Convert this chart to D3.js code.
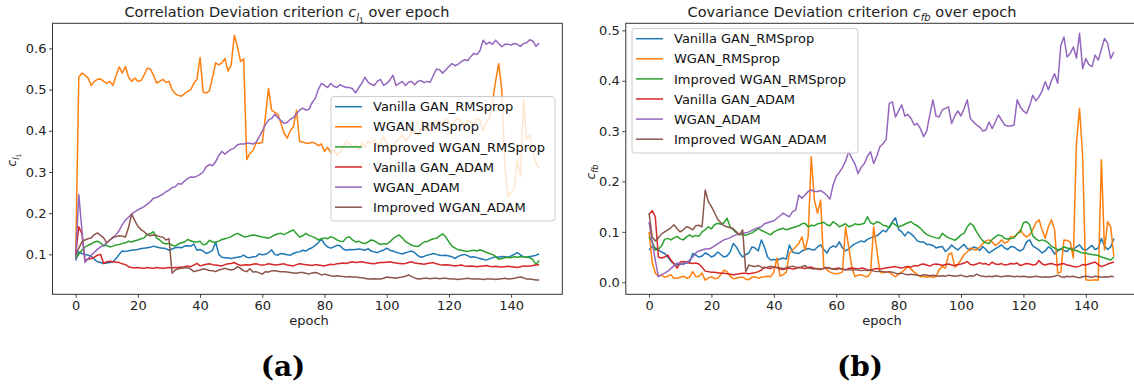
<!DOCTYPE html>
<html>
<head>
<meta charset="utf-8">
<script src="https://cdn.jsdelivr.net/npm/d3@7"></script>
<style>
  body { margin: 0; background: #fff; }
  svg { display: block; font-family: "DejaVu Sans", sans-serif; }
</style>
</head>
<body>
<svg id="fig" width="1134" height="387"></svg>
<script>
// ---- shared labels / ticks ----
const seriesNames = ["Vanilla GAN_RMSprop", "WGAN_RMSprop", "Improved WGAN_RMSprop",
                     "Vanilla GAN_ADAM", "WGAN_ADAM", "Improved WGAN_ADAM"];
const seriesColors = ["#1f77b4", "#ff7f0e", "#2ca02c", "#d62728", "#9467bd", "#8c564b"];
const epochTicks = [0, 20, 40, 60, 80, 100, 120, 140];
const corrTicks = [0.1, 0.2, 0.3, 0.4, 0.5, 0.6];
const covTicks = [0.0, 0.1, 0.2, 0.3, 0.4, 0.5];

// ---- (a) correlation deviation c_l1, one value per epoch ----
const corrVanillaRms = [
 0.085,0.106,0.102,0.1,0.098,0.095,0.088,0.082,0.08,0.078,
 0.079,0.08,0.082,0.09,0.1,0.108,0.107,0.109,0.11,0.111,
 0.112,0.114,0.115,0.116,0.117,0.12,0.118,0.116,0.115,0.114,
 0.11,0.113,0.116,0.117,0.116,0.12,0.121,0.12,0.125,0.11,
 0.112,0.108,0.102,0.105,0.11,0.13,0.1,0.093,0.092,0.091,
 0.09,0.092,0.093,0.094,0.098,0.093,0.092,0.094,0.095,0.101,
 0.099,0.1,0.104,0.111,0.1,0.098,0.102,0.101,0.099,0.098,
 0.102,0.105,0.106,0.11,0.108,0.113,0.116,0.122,0.128,0.138,
 0.125,0.118,0.115,0.118,0.122,0.121,0.113,0.11,0.112,0.111,
 0.112,0.113,0.112,0.11,0.114,0.108,0.106,0.104,0.108,0.11,
 0.115,0.11,0.108,0.105,0.103,0.101,0.104,0.106,0.108,0.104,
 0.097,0.093,0.095,0.098,0.1,0.102,0.1,0.098,0.097,0.098,
 0.096,0.094,0.09,0.095,0.098,0.1,0.097,0.093,0.094,0.092,
 0.09,0.088,0.086,0.089,0.092,0.094,0.093,0.095,0.094,0.093,
 0.096,0.1,0.104,0.099,0.094,0.093,0.095,0.096,0.098,0.101];
const corrWganRms = [
 0.09,0.53,0.54,0.535,0.528,0.51,0.52,0.525,0.526,0.52,
 0.515,0.52,0.51,0.535,0.555,0.54,0.556,0.53,0.52,0.528,
 0.52,0.522,0.535,0.552,0.55,0.535,0.516,0.52,0.525,0.518,
 0.52,0.5,0.49,0.486,0.484,0.49,0.495,0.5,0.515,0.525,
 0.578,0.494,0.492,0.497,0.53,0.565,0.56,0.565,0.576,0.545,
 0.56,0.632,0.605,0.568,0.575,0.33,0.345,0.352,0.37,0.37,
 0.372,0.435,0.503,0.45,0.445,0.44,0.418,0.394,0.382,0.4,
 0.41,0.45,0.374,0.373,0.37,0.37,0.372,0.37,0.364,0.368,
 0.35,0.36,0.347,0.355,0.341,0.348,0.36,0.375,0.37,0.36,
 0.365,0.355,0.37,0.36,0.375,0.37,0.38,0.365,0.37,0.385,
 0.37,0.35,0.36,0.375,0.38,0.39,0.375,0.385,0.395,0.4,
 0.39,0.405,0.4,0.415,0.4,0.42,0.42,0.425,0.41,0.43,
 0.42,0.415,0.425,0.43,0.42,0.41,0.425,0.42,0.415,0.43,
 0.425,0.4,0.42,0.43,0.47,0.52,0.563,0.5,0.31,0.24,
 0.25,0.26,0.33,0.29,0.475,0.38,0.39,0.35,0.32,0.31];
const corrImprovedRms = [
 0.09,0.1,0.11,0.118,0.122,0.125,0.13,0.132,0.128,0.12,
 0.122,0.118,0.12,0.123,0.124,0.126,0.128,0.132,0.13,0.133,
 0.135,0.138,0.14,0.148,0.15,0.155,0.14,0.135,0.128,0.125,
 0.127,0.122,0.12,0.125,0.128,0.13,0.136,0.133,0.13,0.13,
 0.132,0.123,0.125,0.134,0.13,0.129,0.132,0.136,0.138,0.14,
 0.143,0.148,0.151,0.147,0.143,0.143,0.145,0.147,0.146,0.144,
 0.142,0.141,0.139,0.143,0.147,0.15,0.151,0.148,0.152,0.156,
 0.159,0.15,0.142,0.145,0.151,0.146,0.143,0.14,0.135,0.138,
 0.14,0.138,0.143,0.14,0.135,0.132,0.131,0.14,0.143,0.135,
 0.13,0.132,0.128,0.126,0.13,0.135,0.133,0.128,0.124,0.126,
 0.125,0.13,0.138,0.143,0.147,0.14,0.131,0.127,0.122,0.12,
 0.119,0.124,0.13,0.131,0.135,0.138,0.139,0.145,0.15,0.142,
 0.13,0.12,0.115,0.111,0.11,0.108,0.107,0.109,0.11,0.108,
 0.111,0.108,0.105,0.102,0.1,0.095,0.088,0.09,0.092,0.093,
 0.092,0.094,0.093,0.095,0.094,0.093,0.092,0.087,0.075,0.085];
const corrVanillaAdam = [
 0.1,0.167,0.15,0.086,0.088,0.09,0.093,0.098,0.1,0.078,
 0.082,0.083,0.082,0.081,0.08,0.077,0.075,0.07,0.068,0.067,
 0.068,0.067,0.066,0.068,0.067,0.066,0.068,0.067,0.066,0.067,
 0.068,0.067,0.068,0.068,0.069,0.07,0.072,0.07,0.074,0.078,
 0.072,0.074,0.076,0.077,0.075,0.074,0.073,0.072,0.075,0.077,
 0.078,0.08,0.076,0.073,0.074,0.075,0.074,0.076,0.077,0.075,
 0.074,0.075,0.077,0.076,0.074,0.075,0.076,0.077,0.074,0.073,
 0.072,0.075,0.077,0.076,0.075,0.074,0.073,0.075,0.074,0.073,
 0.072,0.074,0.076,0.075,0.077,0.078,0.079,0.078,0.08,0.082,
 0.08,0.081,0.082,0.08,0.079,0.078,0.077,0.079,0.08,0.08,
 0.081,0.082,0.08,0.079,0.078,0.077,0.078,0.08,0.082,0.079,
 0.078,0.077,0.076,0.078,0.079,0.08,0.077,0.075,0.074,0.075,
 0.074,0.073,0.072,0.073,0.074,0.072,0.071,0.072,0.071,0.07,
 0.071,0.072,0.073,0.071,0.07,0.071,0.07,0.069,0.07,0.071,
 0.07,0.069,0.068,0.07,0.072,0.071,0.072,0.073,0.074,0.075];
const corrWganAdam = [
 0.09,0.245,0.16,0.08,0.09,0.098,0.105,0.112,0.118,0.122,
 0.128,0.135,0.14,0.148,0.158,0.172,0.183,0.19,0.198,0.203,
 0.208,0.212,0.216,0.222,0.228,0.236,0.238,0.242,0.246,0.252,
 0.256,0.262,0.264,0.272,0.27,0.278,0.284,0.288,0.287,0.29,
 0.294,0.3,0.313,0.318,0.315,0.325,0.34,0.35,0.343,0.35,
 0.355,0.358,0.366,0.368,0.368,0.37,0.37,0.368,0.372,0.385,
 0.4,0.415,0.426,0.43,0.44,0.432,0.425,0.418,0.42,0.428,
 0.432,0.442,0.45,0.455,0.45,0.452,0.468,0.478,0.5,0.515,
 0.51,0.505,0.515,0.508,0.505,0.512,0.508,0.505,0.505,0.502,
 0.492,0.505,0.515,0.53,0.518,0.513,0.51,0.52,0.525,0.51,
 0.515,0.523,0.535,0.51,0.515,0.52,0.51,0.518,0.52,0.512,
 0.52,0.522,0.517,0.52,0.518,0.535,0.55,0.548,0.54,0.548,
 0.556,0.563,0.558,0.562,0.568,0.573,0.57,0.58,0.588,0.585,
 0.595,0.62,0.61,0.615,0.61,0.62,0.612,0.604,0.61,0.61,
 0.608,0.612,0.61,0.605,0.612,0.614,0.621,0.618,0.605,0.613];
const corrImprovedAdam = [
 0.098,0.115,0.13,0.135,0.138,0.14,0.148,0.152,0.146,0.14,
 0.128,0.135,0.142,0.143,0.145,0.144,0.142,0.165,0.198,0.182,
 0.168,0.16,0.155,0.148,0.145,0.147,0.146,0.143,0.142,0.135,
 0.138,0.054,0.062,0.065,0.066,0.067,0.068,0.064,0.058,0.06,
 0.062,0.065,0.063,0.061,0.06,0.058,0.062,0.064,0.066,0.064,
 0.062,0.064,0.07,0.066,0.06,0.058,0.065,0.057,0.058,0.055,
 0.052,0.058,0.057,0.06,0.06,0.059,0.058,0.058,0.057,0.056,
 0.055,0.054,0.056,0.056,0.054,0.052,0.055,0.056,0.054,0.05,
 0.052,0.05,0.048,0.047,0.048,0.047,0.046,0.045,0.046,0.045,
 0.045,0.044,0.043,0.042,0.04,0.04,0.041,0.04,0.04,0.042,
 0.045,0.044,0.043,0.042,0.044,0.045,0.047,0.05,0.046,0.043,
 0.04,0.041,0.042,0.042,0.041,0.042,0.042,0.041,0.042,0.042,
 0.041,0.04,0.04,0.039,0.04,0.041,0.042,0.041,0.04,0.04,
 0.04,0.039,0.04,0.04,0.04,0.039,0.04,0.041,0.042,0.04,
 0.041,0.042,0.044,0.045,0.043,0.04,0.04,0.039,0.038,0.038];

// ---- (b) covariance deviation c_fb, one value per epoch ----
const covVanillaRms = [
 0.064,0.071,0.068,0.064,0.06,0.057,0.05,0.042,0.037,0.034,
 0.035,0.037,0.038,0.039,0.057,0.054,0.05,0.052,0.058,0.055,
 0.05,0.053,0.06,0.055,0.05,0.052,0.06,0.077,0.07,0.058,
 0.05,0.055,0.058,0.07,0.068,0.062,0.084,0.07,0.05,0.044,
 0.045,0.044,0.046,0.048,0.046,0.074,0.06,0.058,0.057,0.062,
 0.065,0.067,0.065,0.064,0.07,0.074,0.065,0.058,0.068,0.072,
 0.07,0.08,0.068,0.062,0.066,0.072,0.076,0.079,0.082,0.08,
 0.085,0.088,0.09,0.092,0.097,0.103,0.1,0.11,0.12,0.128,
 0.105,0.1,0.092,0.1,0.096,0.09,0.082,0.08,0.08,0.075,
 0.075,0.073,0.068,0.07,0.071,0.061,0.066,0.074,0.068,0.064,
 0.07,0.075,0.067,0.064,0.07,0.068,0.063,0.071,0.065,0.058,
 0.062,0.066,0.07,0.074,0.068,0.065,0.071,0.07,0.065,0.062,
 0.066,0.08,0.084,0.072,0.068,0.064,0.058,0.062,0.07,0.066,
 0.056,0.062,0.066,0.063,0.061,0.068,0.065,0.07,0.074,0.066,
 0.063,0.068,0.073,0.065,0.068,0.087,0.072,0.065,0.07,0.087];
const covWganRms = [
 0.1,0.04,0.018,0.012,0.014,0.01,0.012,0.015,0.008,0.008,
 0.01,0.012,0.008,0.01,0.021,0.011,0.012,0.018,0.004,0.008,
 0.011,0.007,0.008,0.015,0.024,0.021,0.012,0.007,0.008,0.01,
 0.01,0.006,0.005,0.01,0.011,0.008,0.01,0.011,0.012,0.011,
 0.02,0.048,0.012,0.015,0.02,0.058,0.064,0.07,0.077,0.09,
 0.064,0.09,0.249,0.163,0.137,0.163,0.031,0.025,0.02,0.018,
 0.017,0.018,0.02,0.11,0.07,0.03,0.011,0.014,0.015,0.012,
 0.011,0.018,0.11,0.065,0.02,0.018,0.021,0.02,0.015,0.011,
 0.016,0.02,0.025,0.031,0.026,0.02,0.015,0.011,0.012,0.01,
 0.012,0.01,0.011,0.025,0.031,0.028,0.055,0.058,0.03,0.035,
 0.045,0.055,0.06,0.068,0.065,0.064,0.07,0.077,0.082,0.084,
 0.08,0.073,0.077,0.084,0.078,0.08,0.091,0.09,0.095,0.104,
 0.095,0.09,0.094,0.104,0.118,0.124,0.104,0.087,0.11,0.124,
 0.104,0.018,0.02,0.084,0.083,0.08,0.048,0.276,0.345,0.249,
 0.005,0.004,0.004,0.005,0.004,0.243,0.064,0.12,0.11,0.051];
const covImprovedRms = [
 0.09,0.081,0.064,0.066,0.072,0.085,0.087,0.084,0.088,0.091,
 0.086,0.084,0.09,0.094,0.09,0.093,0.091,0.1,0.104,0.11,
 0.106,0.114,0.117,0.115,0.118,0.127,0.11,0.104,0.098,0.095,
 0.094,0.093,0.096,0.098,0.102,0.107,0.103,0.1,0.097,0.094,
 0.1,0.103,0.105,0.107,0.104,0.106,0.108,0.11,0.112,0.116,
 0.117,0.11,0.113,0.112,0.116,0.117,0.119,0.114,0.112,0.12,
 0.116,0.11,0.113,0.116,0.11,0.112,0.116,0.114,0.115,0.117,
 0.13,0.118,0.115,0.12,0.118,0.113,0.112,0.108,0.118,0.114,
 0.11,0.112,0.115,0.118,0.12,0.115,0.112,0.107,0.1,0.095,
 0.092,0.09,0.088,0.087,0.097,0.092,0.088,0.086,0.083,0.088,
 0.094,0.097,0.11,0.117,0.112,0.1,0.09,0.082,0.078,0.077,
 0.085,0.09,0.094,0.092,0.087,0.086,0.087,0.088,0.096,0.1,
 0.118,0.12,0.114,0.092,0.086,0.082,0.084,0.082,0.078,0.071,
 0.068,0.064,0.066,0.07,0.068,0.066,0.064,0.063,0.06,0.058,
 0.058,0.056,0.055,0.054,0.053,0.05,0.048,0.046,0.044,0.05];
const covVanillaAdam = [
 0.135,0.142,0.13,0.05,0.048,0.05,0.054,0.044,0.036,0.028,
 0.04,0.041,0.04,0.038,0.037,0.038,0.036,0.03,0.022,0.021,
 0.02,0.02,0.019,0.018,0.018,0.017,0.016,0.015,0.016,0.017,
 0.018,0.018,0.017,0.018,0.019,0.021,0.024,0.03,0.028,0.027,
 0.03,0.029,0.026,0.025,0.027,0.028,0.026,0.027,0.03,0.028,
 0.027,0.029,0.03,0.028,0.026,0.025,0.027,0.029,0.028,0.026,
 0.027,0.028,0.026,0.025,0.027,0.028,0.027,0.026,0.028,0.027,
 0.025,0.024,0.026,0.027,0.026,0.027,0.028,0.029,0.03,0.031,
 0.029,0.028,0.03,0.031,0.03,0.033,0.032,0.035,0.036,0.034,
 0.032,0.035,0.036,0.035,0.033,0.035,0.036,0.034,0.033,0.035,
 0.036,0.038,0.041,0.035,0.034,0.036,0.039,0.036,0.037,0.034,
 0.04,0.036,0.035,0.037,0.034,0.035,0.037,0.036,0.038,0.033,
 0.035,0.037,0.036,0.034,0.035,0.043,0.036,0.034,0.036,0.037,
 0.035,0.034,0.036,0.037,0.034,0.033,0.031,0.03,0.032,0.035,
 0.034,0.036,0.038,0.04,0.035,0.031,0.033,0.036,0.038,0.04];
const covWganAdam = [
 0.12,0.08,0.044,0.011,0.015,0.018,0.022,0.027,0.033,0.038,
 0.036,0.035,0.04,0.044,0.05,0.058,0.062,0.064,0.066,0.066,
 0.068,0.072,0.076,0.08,0.084,0.086,0.088,0.092,0.094,0.096,
 0.097,0.098,0.1,0.103,0.106,0.108,0.11,0.116,0.118,0.12,
 0.122,0.127,0.132,0.137,0.133,0.13,0.14,0.143,0.173,0.167,
 0.173,0.18,0.183,0.18,0.18,0.182,0.178,0.172,0.165,0.193,
 0.21,0.218,0.228,0.24,0.259,0.246,0.235,0.216,0.228,0.235,
 0.25,0.259,0.236,0.25,0.269,0.275,0.283,0.355,0.358,0.328,
 0.34,0.352,0.33,0.333,0.325,0.312,0.315,0.305,0.289,0.3,
 0.332,0.362,0.33,0.328,0.342,0.345,0.348,0.315,0.33,0.34,
 0.33,0.345,0.362,0.325,0.318,0.312,0.308,0.3,0.302,0.318,
 0.305,0.318,0.332,0.322,0.312,0.31,0.31,0.312,0.362,0.348,
 0.34,0.335,0.35,0.371,0.36,0.368,0.38,0.398,0.382,0.4,
 0.414,0.395,0.47,0.487,0.447,0.454,0.467,0.445,0.494,0.424,
 0.444,0.432,0.428,0.451,0.441,0.462,0.484,0.474,0.444,0.457];
const covImprovedAdam = [
 0.137,0.09,0.082,0.088,0.096,0.1,0.104,0.108,0.114,0.106,
 0.1,0.104,0.11,0.108,0.104,0.112,0.113,0.11,0.183,0.16,
 0.15,0.138,0.125,0.118,0.112,0.11,0.108,0.106,0.1,0.094,
 0.104,0.021,0.034,0.032,0.031,0.033,0.03,0.028,0.03,0.032,
 0.03,0.029,0.028,0.027,0.029,0.03,0.032,0.03,0.028,0.031,
 0.033,0.028,0.027,0.026,0.027,0.026,0.028,0.029,0.027,0.026,
 0.025,0.027,0.026,0.024,0.025,0.024,0.025,0.024,0.023,0.024,
 0.023,0.024,0.022,0.021,0.022,0.021,0.02,0.021,0.02,0.018,
 0.017,0.018,0.016,0.015,0.016,0.015,0.014,0.013,0.015,0.014,
 0.013,0.014,0.013,0.012,0.013,0.012,0.014,0.013,0.012,0.013,
 0.014,0.012,0.011,0.013,0.012,0.016,0.013,0.012,0.011,0.012,
 0.011,0.013,0.012,0.011,0.012,0.013,0.012,0.011,0.012,0.011,
 0.012,0.011,0.01,0.011,0.012,0.011,0.01,0.011,0.01,0.011,
 0.012,0.014,0.011,0.01,0.012,0.011,0.012,0.01,0.009,0.011,
 0.012,0.011,0.01,0.012,0.011,0.01,0.011,0.01,0.012,0.011];

const svg = d3.select("#fig");

// Draw one panel: frame, lines, ticks, labels and legend.
function drawPanel(p) {
  const g = svg.append("g");
  const x = d3.scaleLinear().domain([-7.45, 156.45]).range([p.left, p.right]);
  const y = d3.scaleLinear().domain(p.yDomain).range([p.bottom, p.top]);

  const clipId = "clip-" + p.id;
  g.append("clipPath").attr("id", clipId)
    .append("rect").attr("x", p.left).attr("y", p.top)
    .attr("width", p.right - p.left).attr("height", p.bottom - p.top);

  const line = d3.line().x((d, i) => x(i)).y(d => y(d));
  const plot = g.append("g").attr("clip-path", `url(#${clipId})`);
  p.series.forEach((s, k) => {
    plot.append("path").datum(s)
      .attr("d", line)
      .attr("fill", "none")
      .attr("stroke", seriesColors[k])
      .attr("stroke-width", 1.5)
      .attr("stroke-linejoin", "round");
  });

  // axes
  const xAxis = d3.axisBottom(x).tickValues(epochTicks).tickSize(3.5).tickPadding(3).tickSizeOuter(0);
  const yAxis = d3.axisLeft(y).tickValues(p.yTicks).tickFormat(d3.format(".1f"))
    .tickSize(3.5).tickPadding(2.5).tickSizeOuter(0);
  const gx = g.append("g").attr("transform", `translate(0,${p.bottom})`).call(xAxis);
  const gy = g.append("g").attr("transform", `translate(${p.left},0)`).call(yAxis);
  [gx, gy].forEach(a => {
    a.select(".domain").remove();
    a.selectAll("line").attr("stroke", "#333").attr("stroke-width", 0.9);
    a.selectAll("text").attr("font-size", 13).attr("fill", "#222")
      .attr("font-family", "DejaVu Sans, sans-serif");
  });

  // frame
  g.append("rect").attr("x", p.left).attr("y", p.top)
    .attr("width", p.right - p.left).attr("height", p.bottom - p.top)
    .attr("fill", "none").attr("stroke", "#333").attr("stroke-width", 1);

  // title with math subscript
  const t = g.append("text").attr("x", p.titleX).attr("y", 17)
    .attr("text-anchor", "middle").attr("font-size", 14.5).attr("fill", "#222");
  t.append("tspan").text(p.titleA);
  t.append("tspan").attr("font-style", "italic").text("c");
  let shift = 0;
  p.sub.forEach(s => {
    t.append("tspan").attr("font-style", s.italic ? "italic" : "normal")
      .attr("font-size", s.size).attr("dy", s.dy).text(s.text);
    shift += s.dy;
  });
  t.append("tspan").attr("dy", -shift).text(p.titleB);

  // x label
  g.append("text").attr("x", p.xLabelX).attr("y", 325).attr("text-anchor", "middle")
    .attr("font-size", 13).attr("fill", "#222").text("epoch");

  // y label (rotated, math style)
  const yl = g.append("text")
    .attr("transform", `translate(${p.yLabelX},${p.yLabelY}) rotate(-90)`)
    .attr("text-anchor", "middle").attr("font-size", 12).attr("fill", "#222");
  yl.append("tspan").attr("font-style", "italic").text("c");
  p.sub.forEach(s => {
    yl.append("tspan").attr("font-style", s.italic ? "italic" : "normal")
      .attr("font-size", s.size * 12 / 14.5).attr("dy", s.dy * 12 / 14.5).text(s.text);
  });

  // legend
  const L = p.legend;
  const lg = g.append("g");
  lg.append("rect").attr("x", L.x).attr("y", L.y).attr("width", L.w).attr("height", L.h)
    .attr("rx", 3).attr("fill", "#fff").attr("fill-opacity", 0.8)
    .attr("stroke", "#cccccc").attr("stroke-width", 1);
  seriesNames.forEach((name, k) => {
    const cy = L.y + L.first + k * L.step;
    lg.append("line").attr("x1", L.x + 4).attr("x2", L.x + 31)
      .attr("y1", cy).attr("y2", cy)
      .attr("stroke", seriesColors[k]).attr("stroke-width", 1.5);
    lg.append("text").attr("x", L.x + 42).attr("y", cy).attr("dy", "0.36em")
      .attr("font-size", 13).attr("fill", "#111").text(name);
  });
}

drawPanel({
  id: "a", left: 52.5, right: 562.3, top: 23.3, bottom: 294.3,
  yDomain: [0.003, 0.661], yTicks: corrTicks,
  series: [corrVanillaRms, corrWganRms, corrImprovedRms, corrVanillaAdam, corrWganAdam, corrImprovedAdam],
  titleX: 287, titleA: "Correlation Deviation criterion ", titleB: " over epoch",
  sub: [{text: "l", italic: true, size: 10, dy: 4}, {text: "1", italic: false, size: 7.5, dy: 2}],
  xLabelX: 309, yLabelX: 16, yLabelY: 160,
  legend: {x: 331, y: 96.5, w: 224, h: 124.5, first: 10.2, step: 20.1}
});

drawPanel({
  id: "b", left: 625.8, right: 1137.1, top: 23.3, bottom: 294.3,
  yDomain: [-0.024, 0.514], yTicks: covTicks,
  series: [covVanillaRms, covWganRms, covImprovedRms, covVanillaAdam, covWganAdam, covImprovedAdam],
  titleX: 852, titleA: "Covariance Deviation criterion ", titleB: " over epoch",
  sub: [{text: "fb", italic: true, size: 10, dy: 4}],
  xLabelX: 882, yLabelX: 595, yLabelY: 172,
  legend: {x: 632, y: 28.5, w: 226, h: 124.5, first: 10.2, step: 20.1}
});

// sub-figure captions
svg.append("text").attr("x", 283).attr("y", 376).attr("text-anchor", "middle")
  .attr("font-family", "DejaVu Serif, serif").attr("font-weight", "bold")
  .attr("font-size", 28).attr("fill", "#000").text("(a)");
svg.append("text").attr("x", 860).attr("y", 376).attr("text-anchor", "middle")
  .attr("font-family", "DejaVu Serif, serif").attr("font-weight", "bold")
  .attr("font-size", 28).attr("fill", "#000").text("(b)");
</script>
</body>
</html>
